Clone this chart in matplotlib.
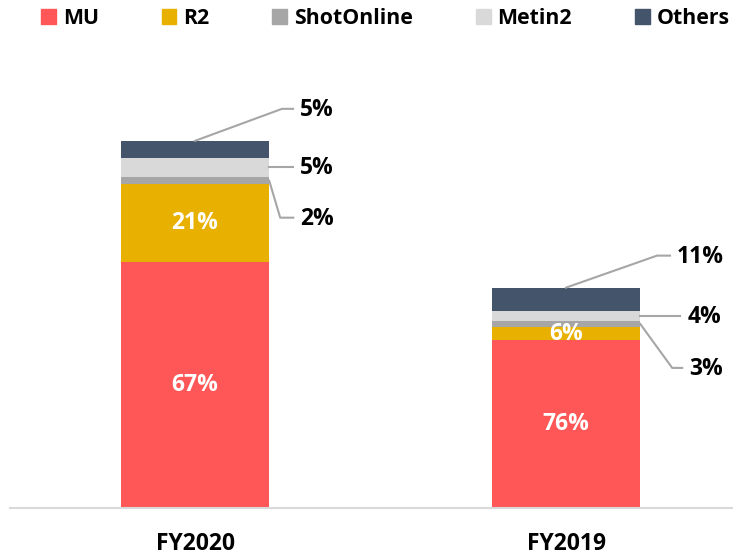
import numpy as np
import matplotlib
matplotlib.use("Agg")
import matplotlib.pyplot as plt
from matplotlib.patches import Patch

plt.rcParams['font.family'] = ['Open Sans', 'DejaVu Sans']
plt.rcParams['font.weight'] = 'bold'

# Data (revenue share, KRW bn)
years = ['FY2020', 'FY2019']
games = ['MU', 'R2', 'ShotOnline', 'Metin2', 'Others']
mu = [196.7, 134.5]
r2 = [62.4, 10.2]
shot = [5.8, 5.3]
metin2 = [15.4, 7.8]
others = [13.6, 18.6]
pct_labels = [
    ['67%', '21%', '2%', '5%', '5%'],
    ['76%', '6%', '3%', '4%', '11%'],
]

colors = ['#FF5757', '#E8B000', '#A6A6A6', '#D9D9D9', '#44546A']
fs = 16.5

W, H = 733, 555
fig = plt.figure(figsize=(W / 100, H / 100), dpi=100)
# axes placed in pixel units
ax = fig.add_axes([10 / W, 1 - 508 / H, (W - 10) / W, (508 - 60) / H])

x = np.arange(len(years))
bar_w = 0.4
series = [mu, r2, shot, metin2, others]
bottom = np.zeros(len(years))
bottoms = []
for vals, c, name in zip(series, colors, games):
    vals = np.array(vals)
    ax.bar(x, vals, bar_w, bottom=bottom, color=c, label=name, linewidth=0)
    bottoms.append(bottom.copy())
    bottom = bottom + vals

ax.set_xlim(-0.4987, 1.4501)
ax.set_ylim(0, 358.6)
for s in ['top', 'left', 'right']:
    ax.spines[s].set_visible(False)
ax.spines['bottom'].set_color('#D9D9D9')
ax.spines['bottom'].set_linewidth(1.5)
ax.set_yticks([])
ax.set_xticks(x)
ax.set_xticklabels(years, fontsize=fs, fontweight='bold')
ax.tick_params(axis='x', length=0, pad=17)

# inside labels for MU and R2
for i in range(len(years)):
    for k in range(2):
        mid = bottoms[k][i] + series[k][i] / 2
        ax.text(x[i], mid, pct_labels[i][k], ha='center', va='center',
                color='white', fontsize=fs, fontweight='bold')

# outside labels with leader lines (pixel offsets: elbow, end)
# entries: (series index, anchor kind, elbow dx, elbow dy, end dx)
callouts = [
    [(4, 'top', 87, 32, 98), (3, 'side', 24, 0, 24), (2, 'side', 11, -37, 24)],
    [(4, 'top', 91, 32, 104), (3, 'side', 40, 0, 40), (2, 'side', 32, -44, 42)],
]
fig.canvas.draw()
for i in range(len(years)):
    for k, kind, ex, ey, endx in callouts[i]:
        if kind == 'top':
            ax_pt = (x[i], bottoms[k][i] + series[k][i])
        else:
            ax_pt = (x[i] + bar_w / 2, bottoms[k][i] + series[k][i] / 2)
        px, py = ax.transData.transform(ax_pt)
        xs = [px, px + ex, px + endx]
        ys = [py, py + ey, py + ey]
        ax.plot(xs, ys, color='#A6A6A6', lw=1.5, transform=None, clip_on=False)
        fig.text((px + endx + 7) / W, (py + ey - 1) / H, pct_labels[i][k],
                 ha='left', va='center', fontsize=fs, fontweight='bold',
                 color='black')

handles = [Patch(color=c, label=g) for c, g in zip(colors, games)]
fig.legend(handles=handles, loc='center left', bbox_to_anchor=(41 / W, 1 - 18 / H),
           ncol=5, frameon=False,
           prop={'weight': 'bold', 'size': 15.3},
           handlelength=0.7, handleheight=0.7, handletextpad=0.32,
           columnspacing=2.96, borderpad=0, borderaxespad=0)

fig.savefig('out.png', dpi=100)
